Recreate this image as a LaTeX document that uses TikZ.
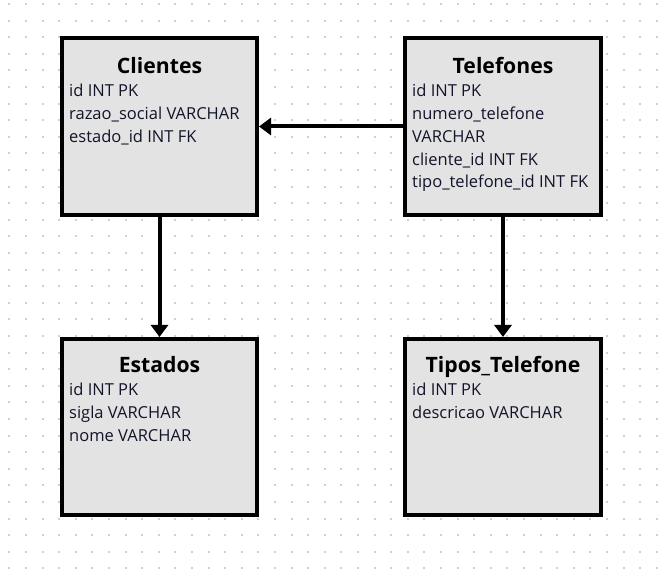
\documentclass[tikz,border=0pt]{standalone}
\usepackage{fontspec}
\setmainfont{Open Sans}
\usetikzlibrary{arrows.meta}
\definecolor{boxfill}{RGB}{227,227,227}
\definecolor{dotc}{RGB}{204,208,218}
\definecolor{bodytext}{RGB}{18,20,42}
\tikzset{
  table/.style={draw=black, line width=4pt, fill=boxfill, rectangle, inner sep=0pt, minimum width=195pt},
  ttl/.style={anchor=base, inner sep=0pt, font=\fontsize{21.2}{25}\selectfont\bfseries, text=black},
  fld/.style={anchor=base west, inner sep=0pt, font=\fontsize{16.5}{20}\selectfont, text=bodytext},
  fk/.style={line width=4pt, -{Triangle[length=12pt,width=17pt]}},
}
\begin{document}
\begin{tikzpicture}[x=1pt,y=-1pt]
\useasboundingbox (0,0) rectangle (662,569);
\foreach \i in {0,...,39}{
  \foreach \j in {0,...,34}{
    \fill[dotc] ({9.3+16.6*\i-1},{4+16.6*\j-1}) rectangle ++(2,2);
  }
}
% tables
\node[table, minimum height=177pt] (cli) at (159.5,126.5) {};
\node[table, minimum height=177pt, minimum width=196pt] (tel) at (503,126.5) {};
\node[table, minimum height=176pt] (est) at (159.5,427) {};
\node[table, minimum height=176pt, minimum width=196pt] (tip) at (503,427) {};
% Clientes
\node[ttl] (cli-t) at (159.5,73.5) {Clientes};
\node[fld] (cli-1) at (69,97) {id INT PK};
\node[fld] (cli-2) at (69,119.7) {razao\_social VARCHAR};
\node[fld] (cli-3) at (69,142.4) {estado\_id INT FK};
% Telefones
\node[ttl] (tel-t) at (503,73.5) {Telefones};
\node[fld] (tel-1) at (412,97) {id INT PK};
\node[fld] (tel-2) at (412,119.7) {numero\_telefone};
\node[fld] (tel-3) at (412,142.4) {VARCHAR};
\node[fld] (tel-4) at (412,165.1) {cliente\_id INT FK};
\node[fld] (tel-5) at (412,187.8) {tipo\_telefone\_id INT FK};
% Estados
\node[ttl] (est-t) at (159.5,372.5) {Estados};
\node[fld] (est-1) at (69,396) {id INT PK};
\node[fld] (est-2) at (69,418.8) {sigla VARCHAR};
\node[fld] (est-3) at (69,441.6) {nome VARCHAR};
% Tipos_Telefone
\node[ttl] (tip-t) at (503,372.5) {Tipos\_Telefone};
\node[fld] (tip-1) at (412,396) {id INT PK};
\node[fld] (tip-2) at (412,418.8) {descricao VARCHAR};
% connectors
\draw[fk] (tel.west) -- (cli.east);
\draw[fk] (cli.south) -- (est.north);
\draw[fk] (tel.south) -- (tip.north);
\end{tikzpicture}
\end{document}
